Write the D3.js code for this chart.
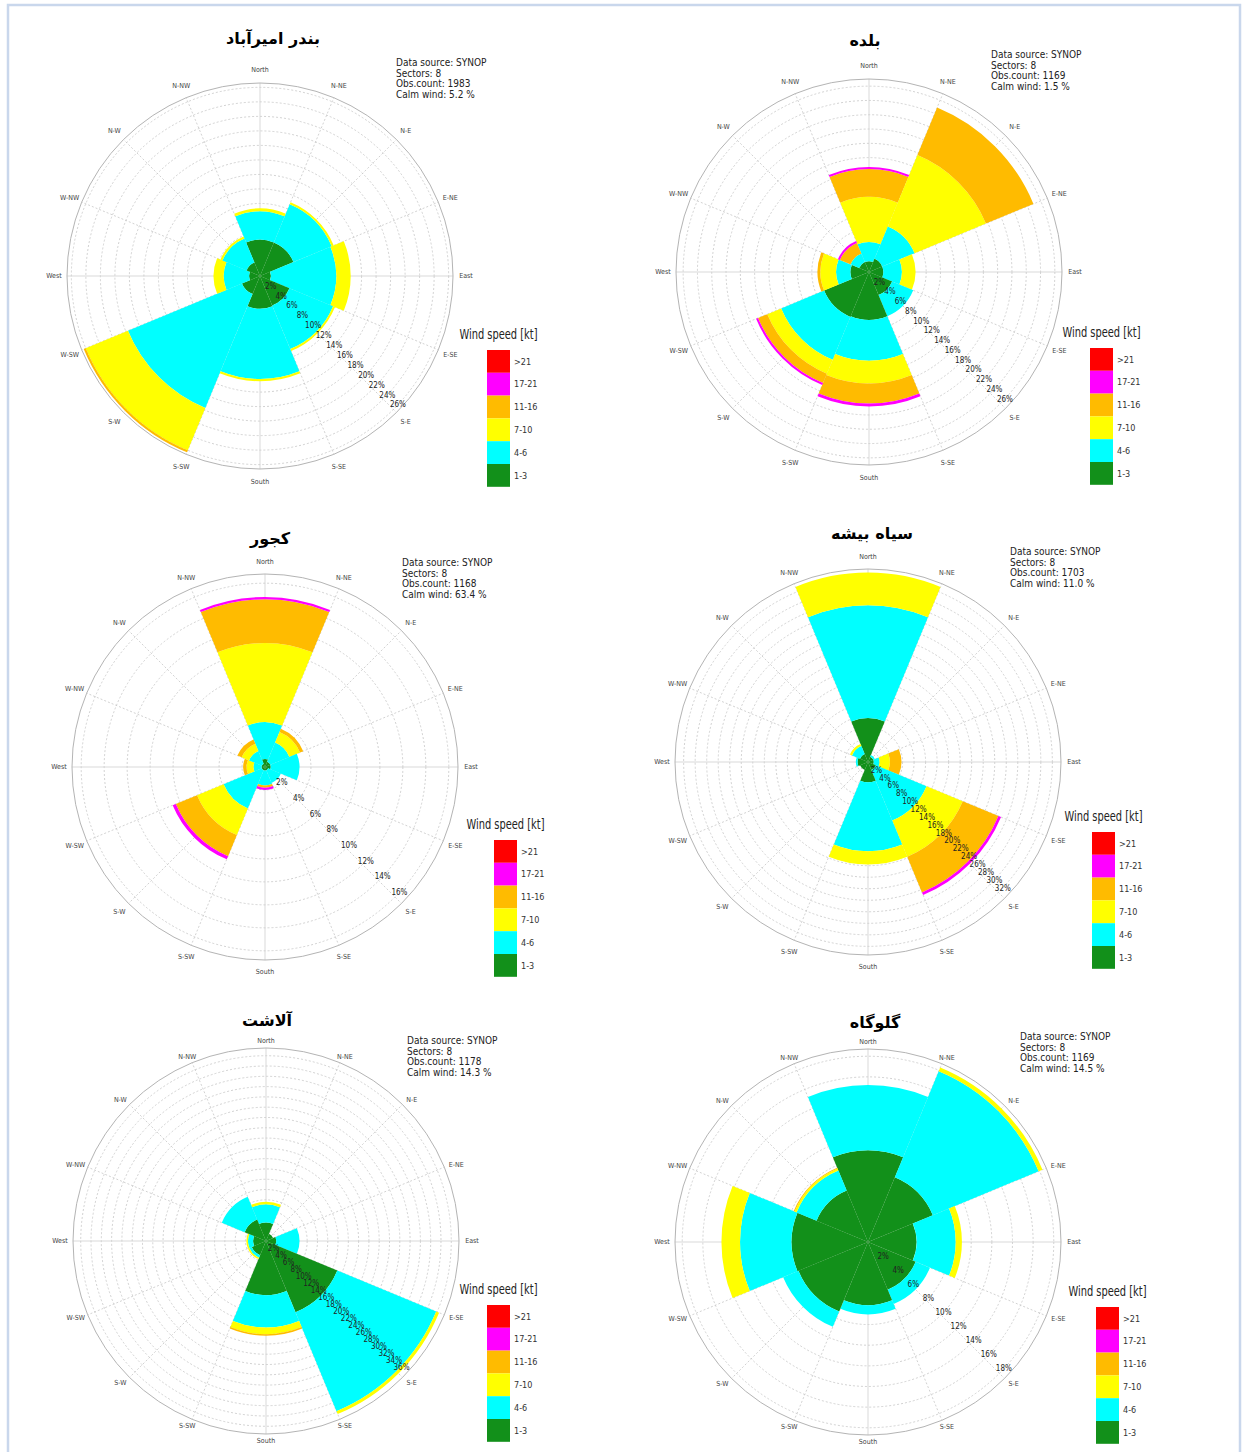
<!DOCTYPE html>
<html lang="en">
<head>
<meta charset="UTF-8">
<title>Wind roses</title>
<script src="https://cdnjs.cloudflare.com/ajax/libs/d3/7.8.5/d3.min.js"></script>
<style>
  body { margin: 0; background: #fff; font-family: "DejaVu Sans Condensed", "DejaVu Sans", sans-serif; }
</style>
</head>
<body>
<div id="chart"></div>
<script>
const width = 1246, height = 1452;

// station names (titles), obs counts and calm %
const stations = ["بندر امیرآباد", "بلده", "کجور", "سیاه بیشه", "آلاشت", "گلوگاه"];
const obsCount = [1983, 1169, 1168, 1703, 1178, 1169];
const calmWind = ["5.2", "1.5", "63.4", "11.0", "14.3", "14.5"];

const sectors = ["N", "NE", "E", "SE", "S", "SW", "W", "NW"];
const speedClasses = ["1-3", "4-6", "7-10", "11-16", "17-21", ">21"];
const classColors = ["#12901a", "#00ffff", "#ffff00", "#ffbb00", "#ff00ff", "#ff0000"];
const compassLabels = ["North", "N-NE", "N-E", "E-NE", "East", "E-SE", "S-E", "S-SE",
                       "South", "S-SW", "S-W", "W-SW", "West", "W-NW", "N-W", "N-NW"];

// outer circle value and last labelled ring (%)
const radialMax = [26.6, 27, 16.8, 33.5, 37.5, 18.7];
const tickMax = [26, 26, 16, 32, 36, 18];

// frequency (%) per sector, one value per speed class (1-3, 4-6, 7-10, 11-16, 17-21, >21)
const amirabad = [
  [5.0, 3.9, 0.4, 0, 0, 0],
  [5.0, 5.7, 0.3, 0, 0, 0],
  [1.5, 9.0, 2.0, 0, 0, 0],
  [4.4, 6.5, 0.3, 0, 0, 0],
  [4.5, 9.7, 0.3, 0, 0, 0],
  [2.7, 17.0, 6.3, 0.3, 0, 0],
  [1.5, 3.5, 1.4, 0, 0, 0],
  [2.0, 3.6, 0.3, 0, 0, 0]
];
const balade = [
  [1.5, 2.7, 6.3, 3.9, 0.3, 0],
  [2.0, 4.9, 10.8, 7.2, 0, 0],
  [2.0, 2.6, 1.9, 0, 0, 0],
  [3.5, 3.2, 0, 0, 0, 0],
  [6.7, 5.7, 3.2, 2.8, 0.4, 0],
  [6.8, 6.5, 2.1, 1.4, 0.3, 0],
  [2.6, 2.0, 2.2, 0.4, 0, 0],
  [1.5, 1.3, 0, 1.6, 0.3, 0]
];
const kojur = [
  [0.7, 3.2, 6.9, 3.8, 0.2, 0],
  [0.5, 1.8, 1.0, 0.3, 0, 0],
  [0.5, 2.5, 0, 0, 0, 0],
  [0.3, 1.2, 0, 0, 0, 0],
  [0.3, 1.3, 0, 0.2, 0.2, 0],
  [0.3, 3.6, 2.5, 2.0, 0.3, 0],
  [0.3, 0.7, 0.6, 0.3, 0, 0],
  [0.3, 1.2, 0.7, 0.4, 0, 0]
];
const siahbisheh = [
  [7.6, 19.6, 5.7, 0, 0, 0],
  [1.0, 0.3, 0, 0, 0, 0],
  [1.0, 1.0, 1.8, 2.0, 0, 0],
  [1.5, 9.5, 6.8, 6.7, 0.5, 0],
  [3.5, 12.0, 2.3, 0, 0, 0],
  [1.5, 0, 0, 0, 0, 0],
  [1.8, 0.3, 0, 0, 0, 0],
  [1.5, 1.5, 0.4, 0, 0, 0]
];
const alasht = [
  [3.6, 3.5, 0.5, 0, 0, 0],
  [1.5, 0, 0, 0, 0, 0],
  [2.0, 4.5, 0, 0, 0, 0],
  [15.0, 20.8, 0.6, 0, 0, 0],
  [10.5, 6.3, 1.3, 0.3, 0, 0],
  [3.0, 0.5, 0.3, 0, 0, 0],
  [2.5, 1.0, 0.3, 0, 0, 0],
  [4.5, 4.8, 0, 0, 0, 0]
];
const golugah = [
  [8.9, 6.3, 0, 0, 0, 0],
  [6.8, 11.1, 0.4, 0, 0, 0],
  [4.7, 3.8, 0.6, 0, 0, 0],
  [5.0, 1.5, 0, 0, 0, 0],
  [6.1, 0.9, 0, 0, 0, 0],
  [7.3, 1.6, 0, 0, 0, 0],
  [7.4, 5.0, 1.8, 0, 0, 0],
  [5.4, 2.1, 0.2, 0.1, 0, 0]
];
const roses = [amirabad, balade, kojur, siahbisheh, alasht, golugah];

// where each panel sits on the page (dr = distance of compass labels from the rim)
const layout = [
  {cx: 260, cy: 276, dr: 13, tx: 273, ty: 38,  ix: 396,  iy: 66,   lx: 487,  ly: 350},
  {cx: 869, cy: 272, dr: 13, tx: 865, ty: 40,  ix: 991,  iy: 58,   lx: 1090, ly: 348},
  {cx: 265, cy: 767, dr: 12, tx: 270, ty: 538, ix: 402,  iy: 566,  lx: 494,  ly: 840},
  {cx: 868, cy: 762, dr: 12, tx: 872, ty: 533, ix: 1010, iy: 555,  lx: 1092, ly: 832},
  {cx: 266, cy: 1241, dr: 7, tx: 267, ty: 1020, ix: 407, iy: 1044, lx: 487, ly: 1305},
  {cx: 868, cy: 1242, dr: 7, tx: 875, ty: 1022, ix: 1020, iy: 1040, lx: 1096, ly: 1307}
];

const R = 193;
const rad = Math.PI / 180;

const svg = d3.select("#chart").append("svg")
    .attr("width", width)
    .attr("height", height);

svg.append("rect")
    .attr("x", 8).attr("y", 5)
    .attr("width", 1232).attr("height", 1470)
    .attr("fill", "none")
    .attr("stroke", "#c9d7ec")
    .attr("stroke-width", 2.5);

layout.forEach((p, k) => {
  const g = svg.append("g").attr("transform", `translate(${p.cx},${p.cy})`);
  const r = d3.scaleLinear().domain([0, radialMax[k]]).range([0, R]);
  const ticks = d3.range(2, tickMax[k] + 1, 2);

  // grid rings
  g.selectAll(".ring").data(ticks).join("circle")
      .attr("r", d => r(d))
      .attr("fill", "none")
      .attr("stroke", "#c6c6c6")
      .attr("stroke-width", 0.8)
      .attr("stroke-dasharray", "2,2");

  // spokes, solid on the four main axes
  g.selectAll(".spoke").data(compassLabels).join("line")
      .attr("x1", 0).attr("y1", 0)
      .attr("x2", (d, i) => R * Math.sin(i * 22.5 * rad))
      .attr("y2", (d, i) => -R * Math.cos(i * 22.5 * rad))
      .attr("stroke", (d, i) => i % 4 === 0 ? "#cfcfcf" : "#c6c6c6")
      .attr("stroke-width", 0.8)
      .attr("stroke-dasharray", (d, i) => i % 4 === 0 ? null : "2,2");

  g.append("circle")
      .attr("r", R)
      .attr("fill", "none")
      .attr("stroke", "#b4b4b4")
      .attr("stroke-width", 1);

  // stacked sector bars
  const arc = d3.arc();
  roses[k].forEach((vals, i) => {
    let cum = 0;
    vals.forEach((v, c) => {
      if (v > 0) {
        g.append("path")
            .attr("d", arc({
              innerRadius: r(cum),
              outerRadius: r(cum + v),
              startAngle: (i * 45 - 22.5) * rad,
              endAngle: (i * 45 + 22.5) * rad
            }))
            .attr("fill", classColors[c]);
      }
      cum += v;
    });
  });

  // ring labels along the lower right
  const labAng = 133 * rad;
  g.selectAll(".tick").data(ticks).join("text")
      .attr("x", d => r(d) * Math.sin(labAng))
      .attr("y", d => -r(d) * Math.cos(labAng))
      .attr("dy", "0.35em")
      .attr("text-anchor", "middle")
      .attr("font-size", 8)
      .attr("fill", "#222")
      .text(d => d + "%");

  // compass labels
  const lr = R + p.dr;
  g.selectAll(".dir").data(compassLabels).join("text")
      .attr("x", (d, i) => (R + 13) * Math.sin(i * 22.5 * rad))
      .attr("y", (d, i) => -lr * Math.cos(i * 22.5 * rad))
      .attr("dy", "0.35em")
      .attr("text-anchor", "middle")
      .attr("font-size", 7)
      .attr("fill", "#444")
      .text(d => d);

  // title
  svg.append("text")
      .attr("x", p.tx).attr("y", p.ty)
      .attr("dy", "0.35em")
      .attr("text-anchor", "middle")
      .attr("font-family", "'DejaVu Sans', sans-serif")
      .attr("font-weight", "bold")
      .attr("font-size", 16)
      .attr("fill", "#000")
      .text(stations[k]);

  // info box
  const info = ["Data source: SYNOP", "Sectors: " + sectors.length,
                "Obs.count: " + obsCount[k], "Calm wind: " + calmWind[k] + " %"];
  svg.append("g").selectAll("text").data(info).join("text")
      .attr("x", p.ix)
      .attr("y", (d, j) => p.iy + j * 10.7)
      .attr("font-size", 10)
      .attr("fill", "#222")
      .text(d => d);

  // legend
  const boxH = 22.8, boxW = 23;
  svg.append("text")
      .attr("x", p.lx + boxW / 2)
      .attr("y", p.ly - 11)
      .attr("text-anchor", "middle")
      .attr("font-size", 14)
      .attr("fill", "#222")
      .attr("textLength", 78)
      .attr("lengthAdjust", "spacingAndGlyphs")
      .text("Wind speed [kt]");
  const order = speedClasses.map((s, c) => c).reverse();
  order.forEach((c, j) => {
    svg.append("rect")
        .attr("x", p.lx).attr("y", p.ly + j * boxH)
        .attr("width", boxW).attr("height", boxH)
        .attr("fill", classColors[c]);
    svg.append("text")
        .attr("x", p.lx + boxW + 4)
        .attr("y", p.ly + j * boxH + boxH / 2)
        .attr("dy", "0.35em")
        .attr("font-size", 9)
        .attr("fill", "#333")
        .text(speedClasses[c]);
  });
});
</script>
</body>
</html>
